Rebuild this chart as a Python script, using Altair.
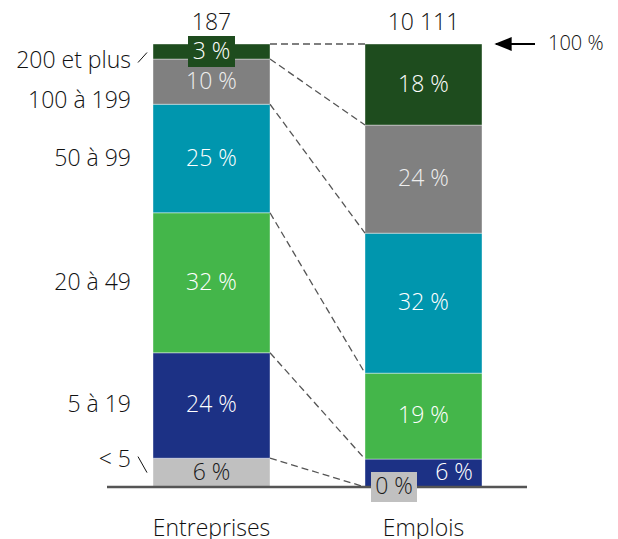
import altair as alt
import pandas as pd

# ---------------- data ----------------
categories = ["< 5", "5 à 19", "20 à 49", "50 à 99", "100 à 199", "200 et plus"]
groups = ["Entreprises", "Emplois"]
totals = ["187", "10 111"]
entreprises = [6.5, 23.8, 31.6, 24.5, 10.2, 3.4]
emplois = [0.0, 6.3, 19.4, 31.6, 24.4, 18.3]
ent_labels = ["6 %", "24 %", "32 %", "25 %", "10 %", "3 %"]
emp_labels = ["0 %", "6 %", "19 %", "32 %", "24 %", "18 %"]
colors = ["#c0c0c0", "#1c3185", "#44b64a", "#0096ae", "#808080", "#1e4c1e"]
text_colors = ["#1a1a1a", "#ffffff", "#ffffff", "#ffffff", "#eeeeee", "#ffffff"]

FONT = "Open Sans"
FS = 23
TXT = "#111111"
W, H = 602, 531
PX_X = 212.0          # px per x unit (distance between bars)
PX_Y = 4.43           # px per percentage point
x0 = 1 - (211.5 - 8) / PX_X
y_top = (487 - 8) / PX_Y
xdom = [x0, x0 + W / PX_X]
ydom = [y_top - H / PX_Y, y_top]
HALF = 58.5 / PX_X    # bar half width

xs = alt.Scale(domain=xdom, range=[0, W], nice=False, zero=False)
ys = alt.Scale(domain=ydom, nice=False, zero=False)

def px(v):
    return v / PX_X

def py(v):
    return v / PX_Y

# segments
rows = []
for gi, (g, vals, labs) in enumerate(zip(groups, [entreprises, emplois], [ent_labels, emp_labels])):
    xc = gi + 1
    cum = 0.0
    for ci, (c, v, l) in enumerate(zip(categories, vals, labs)):
        rows.append(dict(group=g, cat=c, xl=xc - HALF, xr=xc + HALF, xc=xc,
                         y0=cum, y1=cum + v, mid=cum + v / 2, label=l,
                         tcolor=text_colors[ci], color=colors[ci]))
        cum += v
seg = pd.DataFrame(rows)

bars = alt.Chart(seg).mark_rect(stroke="#ffffff", strokeWidth=0.4).encode(
    x=alt.X("xl:Q", scale=xs, axis=None), x2="xr:Q",
    y=alt.Y("y0:Q", scale=ys, axis=None), y2="y1:Q",
    color=alt.Color("cat:N", scale=alt.Scale(domain=categories, range=colors), legend=None),
)

# connectors between cumulative boundaries
conn_rows = []
ce, cm = 0.0, 0.0
for ve, vm in zip(entreprises, emplois):
    ce += ve
    cm += vm
    conn_rows.append(dict(xa=1 + HALF, ya=ce, xb=2 - HALF, yb=cm))
conn = pd.DataFrame(conn_rows)
connectors = alt.Chart(conn).mark_rule(color="#555555", strokeWidth=1.3, strokeDash=[7, 4]).encode(
    x=alt.X("xa:Q", scale=xs, axis=None), y=alt.Y("ya:Q", scale=ys, axis=None),
    x2="xb:Q", y2="yb:Q",
)

# baseline
base_df = pd.DataFrame([dict(xa=1 - px(104.5), xb=2 + px(103.5), y=0)])
baseline = alt.Chart(base_df).mark_rule(color="#555555", strokeWidth=2.5).encode(
    x=alt.X("xa:Q", scale=xs, axis=None), x2="xb:Q", y=alt.Y("y:Q", scale=ys, axis=None),
)

# label boxes ("3 %" and "0 %")
box_rows = [
    dict(xa=1 - px(23.5), xb=1 + px(23.5), ya=seg.iloc[5]["mid"] - py(15.5), yb=seg.iloc[5]["mid"] + py(15.5), color=colors[5]),
    dict(xa=2 - px(52.5), xb=2 - px(6.5), ya=-py(15), yb=py(15), color=colors[0]),
]
boxes = alt.Chart(pd.DataFrame(box_rows)).mark_rect().encode(
    x=alt.X("xa:Q", scale=xs, axis=None), x2="xb:Q",
    y=alt.Y("ya:Q", scale=ys, axis=None), y2="yb:Q",
    fill=alt.Fill("color:N", scale=None),
)

# percentage labels
lab = seg.copy()
lab["tx"] = lab["xc"]
lab["ty"] = lab["mid"]
m0 = (lab.group == "Emplois") & (lab.cat == "< 5")
lab.loc[m0, "tx"] = 2 - px(29.5)
lab.loc[m0, "ty"] = 0
m1 = (lab.group == "Emplois") & (lab.cat == "5 à 19")
lab.loc[m1, "tx"] = 2 + px(30.5)
pct = alt.Chart(lab).mark_text(font=FONT, fontSize=FS, fontWeight=300, baseline="middle").encode(
    x=alt.X("tx:Q", scale=xs, axis=None), y=alt.Y("ty:Q", scale=ys, axis=None),
    text="label:N", color=alt.Color("tcolor:N", scale=None),
)

# totals on top and group names below
top_df = pd.DataFrame(dict(x=[1, 2], t=totals, g=groups))
top_df["ytop"] = 100 + py(21)
top_df["ybot"] = -py(42)
tops = alt.Chart(top_df).mark_text(font=FONT, fontSize=FS, fontWeight=300, color=TXT, baseline="middle").encode(
    x=alt.X("x:Q", scale=xs, axis=None), y=alt.Y("ytop:Q", scale=ys, axis=None), text="t:N")
bottoms = alt.Chart(top_df).mark_text(font=FONT, fontSize=FS, fontWeight=300, color=TXT, baseline="middle").encode(
    x=alt.X("x:Q", scale=xs, axis=None), y=alt.Y("ybot:Q", scale=ys, axis=None), text="g:N")

# category labels on the left
ent = seg[seg.group == "Entreprises"].reset_index(drop=True)
y_off = {"< 5": py(13), "200 et plus": -py(9), "100 à 199": -py(19)}
cat_df = pd.DataFrame(dict(cat=categories,
                           y=[ent.loc[i, "mid"] + y_off.get(c, 0.0) for i, c in enumerate(categories)]))
cat_df["x"] = 1 - HALF - px(22)
cats = alt.Chart(cat_df).mark_text(font=FONT, fontSize=FS, fontWeight=300, color=TXT, align="right", baseline="middle").encode(
    x=alt.X("x:Q", scale=xs, axis=None), y=alt.Y("y:Q", scale=ys, axis=None), text="cat:N")

# small leader ticks
tick_rows = [
    dict(xa=1 - HALF - px(15), ya=cat_df.loc[5, "y"] - py(2), xb=1 - HALF - px(6), yb=cat_df.loc[5, "y"] + py(8)),
    dict(xa=1 - HALF - px(15), ya=cat_df.loc[0, "y"] + py(3), xb=1 - HALF - px(6), yb=cat_df.loc[0, "y"] - py(13)),
]
ticks = alt.Chart(pd.DataFrame(tick_rows)).mark_rule(color=TXT, strokeWidth=1).encode(
    x=alt.X("xa:Q", scale=xs, axis=None), y=alt.Y("ya:Q", scale=ys, axis=None), x2="xb:Q", y2="yb:Q")

# 100 % arrow
arr_df = pd.DataFrame([dict(xa=2 + HALF + px(14), xb=2 + HALF + px(53), y=100,
                            xh=2 + HALF + px(21), xt=2 + HALF + px(66), t="100 %")])
arrow_line = alt.Chart(arr_df).mark_rule(color="#000000", strokeWidth=2.2).encode(
    x=alt.X("xa:Q", scale=xs, axis=None), x2="xb:Q", y=alt.Y("y:Q", scale=ys, axis=None))
arrow_head = alt.Chart(arr_df).mark_point(shape="M -1 0 L 1 -0.8 L 1 0.8 Z", filled=True, color="#000000",
                                          opacity=1, size=300).encode(
    x=alt.X("xh:Q", scale=xs, axis=None), y=alt.Y("y:Q", scale=ys, axis=None))
arrow_text = alt.Chart(arr_df).mark_text(font=FONT, fontSize=20, fontWeight=300, color=TXT, align="left", baseline="middle").encode(
    x=alt.X("xt:Q", scale=xs, axis=None), y=alt.Y("y:Q", scale=ys, axis=None), text="t:N")

chart = alt.layer(
    bars, connectors, baseline, boxes, pct, tops, bottoms, cats, ticks, arrow_line, arrow_head, arrow_text
).properties(
    width=W, height=H, autosize=alt.AutoSizeParams(type="none"), padding=0
).configure_view(stroke=None)

chart.save("out.html", embed_options={"renderer": "svg", "actions": False})
